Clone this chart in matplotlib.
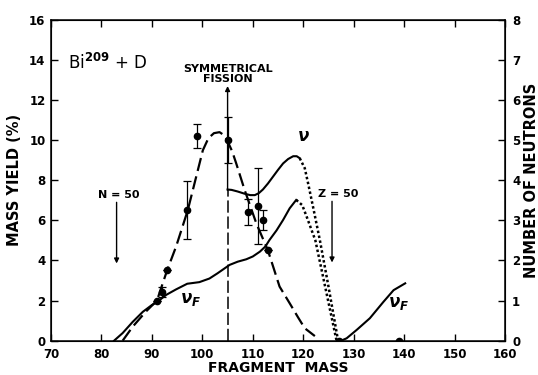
import matplotlib.pyplot as plt
import numpy as np

plt.rcParams['font.family'] = 'DejaVu Sans'
plt.rcParams['font.weight'] = 'bold'

# measured mass yields (%) with error bars
yield_mass = [91, 92, 93, 97, 99, 105, 109, 111, 112, 113, 127, 139]
yield_pct = [2.0, 2.45, 3.55, 6.5, 10.2, 10.0, 6.4, 6.7, 6.0, 4.5, 0.0, 0.0]
yield_err = [0, 0.25, 0, 1.45, 0.6, 1.15, 0.65, 1.9, 0.5, 0, 0, 0]

# smooth mass-yield curve (dashed)
curve_mass = [84.2, 86.2, 88.8, 91, 93, 94.8, 97.1, 98.8, 100.1, 101.2, 102.3,
              103.4, 104.3, 104.9, 105.9, 106.7, 108.4, 110.7, 113, 115.3,
              117.3, 119, 120.3, 122.3]
curve_pct = [0, 0.7, 1.45, 2.0, 3.5, 4.7, 6.5, 8.2, 9.5, 10.1, 10.35,
             10.4, 10.25, 10.0, 9.45, 8.85, 7.5, 5.85, 4.5, 2.7,
             1.87, 1.15, 0.62, 0.23]

# total neutrons per fragment, nu
nu_mass = [105, 105.8, 107, 108.5, 109.5, 110.4, 111.2, 112, 113, 114, 115,
           116, 117, 118, 118.7, 119.3]
nu_val = [3.77, 3.76, 3.72, 3.66, 3.63, 3.63, 3.68, 3.77, 3.92, 4.09, 4.26,
          4.42, 4.53, 4.6, 4.6, 4.55]
nu_dot_mass = [119.3, 120.3, 121, 122, 123.3, 125, 126.9]
nu_dot_val = [4.55, 4.3, 3.9, 3.3, 2.5, 1.35, 0]

# neutrons from fragment, nu_F
nuf_mass = [82.5, 84.2, 86.2, 88.2, 90, 91.1, 92.8, 94.8, 97, 99.4, 101.4,
            103, 105.4, 107, 108.7, 110, 111.4, 112.5, 113.3, 114.7, 116,
            117.3, 118.6]
nuf_val = [0, 0.19, 0.47, 0.72, 0.89, 0.97, 1.14, 1.28, 1.42, 1.46, 1.55,
           1.68, 1.89, 1.97, 2.03, 2.1, 2.22, 2.35, 2.51, 2.75, 3.01,
           3.3, 3.51]
nuf_dot_mass = [118.6, 119.8, 120.8, 122.4, 124.5, 126.6]
nuf_dot_val = [3.51, 3.38, 3.05, 2.5, 1.25, 0]
nuf2_mass = [127.5, 128.6, 130.6, 133.2, 135.9, 137.9, 140.2]
nuf2_val = [0, 0.06, 0.27, 0.56, 0.97, 1.26, 1.43]

fig = plt.figure(figsize=(5.38, 3.75), dpi=100)
ax = fig.add_axes([0.0948, 0.0915, 0.844, 0.8555])
ax2 = ax.twinx()

ax.set_xlim(70, 160)
ax.set_ylim(0, 16)
ax2.set_ylim(0, 8)

ax.plot(curve_mass, curve_pct, color='black', lw=1.6, ls=(0, (6, 2.5)))
ax.errorbar(yield_mass, yield_pct, yerr=yield_err, fmt='o', color='black',
            ms=4.5, elinewidth=0.9, capsize=3, capthick=0.9)

ax2.plot(nu_mass, nu_val, color='black', lw=1.5)
ax2.plot(nu_dot_mass, nu_dot_val, color='black', lw=1.8, ls=(0, (1, 1)))
ax2.plot(nuf_mass, nuf_val, color='black', lw=1.5)
ax2.plot(nuf_dot_mass, nuf_dot_val, color='black', lw=1.8, ls=(0, (1, 1)))
ax2.plot(nuf2_mass, nuf2_val, color='black', lw=1.5)

# symmetric fission line
ax.plot([105, 105], [0, 7.5], color='black', lw=1.1, ls=(0, (8, 2.5)))
ax.annotate('', xy=(105, 12.7), xytext=(105, 7.5),
            arrowprops=dict(arrowstyle='-|>', color='black', lw=1.0,
                            mutation_scale=7, shrinkA=0, shrinkB=0))
ax.text(105, 13.3, 'SYMMETRICAL\nFISSION', ha='center', va='center',
        fontsize=8, fontweight='bold', linespacing=1.1)

# closed shell markers
ax.text(83.5, 7.25, 'N = 50', ha='center', va='center', fontsize=8)
ax.annotate('', xy=(83, 3.85), xytext=(83, 6.9),
            arrowprops=dict(arrowstyle='-|>', color='black', lw=1.0,
                            mutation_scale=7, shrinkA=0, shrinkB=0))
ax.text(126.9, 7.3, 'Z = 50', ha='center', va='center', fontsize=8)
ax.annotate('', xy=(125.7, 3.9), xytext=(125.7, 6.95),
            arrowprops=dict(arrowstyle='-|>', color='black', lw=1.0,
                            mutation_scale=7, shrinkA=0, shrinkB=0))

ax.text(73.3, 13.85, r'Bi$^{\mathbf{209}}$ + D', ha='left', va='center',
        fontsize=12, fontweight='normal')
ax.text(120.0, 10.2, r'$\nu$', ha='center', va='center', fontsize=12,
        fontweight='bold')
ax.text(97.6, 2.1, r'$\nu_F$', ha='center', va='center', fontsize=12)
ax.text(138.9, 1.9, r'$\nu_F$', ha='center', va='center', fontsize=12)

ax.set_xticks(np.arange(70, 161, 10))
ax.set_yticks(np.arange(0, 17, 2))
ax2.set_yticks(np.arange(0, 9, 1))
ax.tick_params(axis='x', direction='in', length=5, width=1.0, labelsize=8.5,
               top=True, pad=5)
ax.tick_params(axis='y', direction='in', length=5, width=1.0, labelsize=8.5,
               pad=4)
ax2.tick_params(direction='in', length=5, width=1.0, labelsize=8.5, pad=5)
for lab in ax.get_xticklabels() + ax.get_yticklabels() + ax2.get_yticklabels():
    lab.set_fontweight('bold')
for s in ax.spines.values():
    s.set_linewidth(1.1)

ax.set_xlabel('FRAGMENT  MASS', fontsize=10, fontweight='bold', labelpad=0)
ax.set_ylabel('MASS YIELD (%)', fontsize=10.5, fontweight='bold', labelpad=5)
ax2.set_ylabel('NUMBER OF NEUTRONS', fontsize=10.5, fontweight='bold',
               labelpad=3)

fig.savefig('out.png', dpi=100)
